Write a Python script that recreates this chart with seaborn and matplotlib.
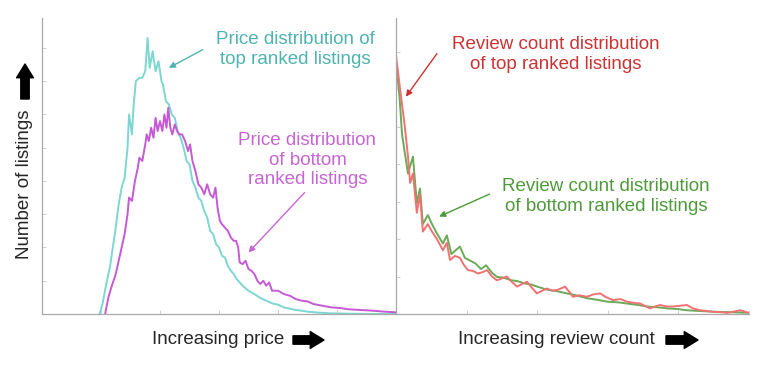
import matplotlib
matplotlib.use("Agg")
import pandas as pd
import seaborn as sns
import matplotlib.pyplot as plt

# ---- data (arbitrary units) ----
price_top_x = [19.5, 20.5, 22, 23, 24, 25, 26, 27, 28, 29, 29.5, 30.5, 31, 31.8, 33, 34, 35,
               35.8, 36.5, 37.5, 38.5, 39.5, 40.5, 41, 42, 43, 44, 45, 46, 47, 48, 49, 50, 51,
               52, 53, 54, 55, 56, 57, 58, 59, 60, 61, 62, 63, 64, 65, 66, 67, 68, 70, 72, 74,
               76, 78, 80, 82, 84, 86, 88, 90, 94, 98, 104, 112, 120]
price_top_y = [0, 0.3, 1.0, 1.4, 2.0, 2.6, 3.3, 3.8, 4.1, 5.0, 6.0, 5.4, 6.2, 7.0, 7.1, 7.1, 7.3,
               8.3, 7.4, 7.9, 7.3, 7.6, 7.0, 6.9, 6.4, 6.3, 6.0, 5.9, 5.5, 5.3, 5.0, 4.6, 4.5, 4.0,
               3.8, 3.5, 3.4, 3.1, 2.9, 2.5, 2.4, 2.1, 2.0, 1.75, 1.7, 1.45, 1.3, 1.2, 1.05, 0.95,
               0.85, 0.7, 0.6, 0.48, 0.4, 0.32, 0.28, 0.2, 0.16, 0.12, 0.1, 0.07, 0.04, 0.02,
               0.01, 0.0, 0.0]

price_bottom_x = [21.4, 22.5, 23.5, 25, 26.5, 28, 29, 29.5, 30.5, 31.5, 32.5, 33, 34, 35, 35.5,
                  36.2, 37, 37.8, 38.5, 39.2, 40, 40.8, 41.5, 42.2, 42.8, 43.5, 44.2, 45, 45.8,
                  46.5, 47.5, 48.5, 49.5, 50.2, 51, 52, 53, 54, 55, 56, 57, 58, 58.8, 59.5, 60.3,
                  61, 62, 63, 64, 65, 65.8, 66.5, 67, 68, 69, 70, 71, 72, 73, 74, 75, 76, 77, 78,
                  80, 82, 84, 86, 88, 90, 92, 95, 98, 101, 104, 108, 112, 116, 120]
price_bottom_y = [0, 0.5, 0.8, 1.2, 1.8, 2.4, 3.0, 3.5, 3.4, 4.0, 4.4, 4.7, 4.6, 5.1, 5.4, 5.2,
                  5.6, 5.3, 5.9, 5.5, 5.8, 5.5, 6.0, 5.6, 6.2, 5.6, 5.4, 5.7, 5.5, 5.4, 5.4, 5.2,
                  4.9, 5.1, 4.6, 4.3, 3.9, 3.8, 3.6, 3.9, 3.6, 3.5, 3.8, 3.2, 2.8, 2.7, 2.6, 2.5,
                  2.3, 2.2, 2.2, 2.0, 1.55, 1.5, 1.6, 1.35, 1.3, 1.2, 1.0, 0.9, 1.0, 0.85, 0.95,
                  0.7, 0.7, 0.6, 0.55, 0.45, 0.4, 0.38, 0.3, 0.25, 0.2, 0.18, 0.14, 0.12, 0.1,
                  0.07, 0.05]

review_top_x = [0, 1.1, 2.5, 3.4, 4, 4.8, 5.9, 6.8, 7.6, 9, 10.2, 11.6, 13.3, 14.4, 15.3, 16.7,
                18.1, 19.3, 20.4, 21.8, 23.2, 24.6, 25.8, 27.2, 28.6, 30, 31.4, 32.9, 34.3, 35.7,
                37.1, 38.5, 39.9, 41.4, 42.8, 44.2, 45.6, 46.7, 47.9, 49, 50.1, 52.1, 54.1, 55.8,
                57.8, 59.5, 61.5, 63.5, 65.4, 67.1, 69.1, 70.5, 71.9, 73.4, 74.8, 76.8, 78.5,
                80.5, 82.4, 84.1, 86.1, 88.1, 89.8, 91.8, 93.8, 95.5, 97.5, 98.9, 100]
review_top_y = [6.9, 6.05, 5.0, 4.2, 3.5, 3.75, 2.7, 3.2, 2.2, 2.4, 2.2, 2.0, 1.7, 1.9, 1.44,
                1.55, 1.5, 1.3, 1.17, 1.15, 1.08, 1.12, 1.17, 1.0, 0.9, 0.95, 1.0, 0.85, 0.73,
                0.8, 0.86, 0.7, 0.55, 0.62, 0.68, 0.62, 0.64, 0.68, 0.73, 0.6, 0.46, 0.5, 0.46,
                0.52, 0.55, 0.45, 0.37, 0.4, 0.33, 0.3, 0.28, 0.22, 0.15, 0.2, 0.24, 0.2, 0.2,
                0.22, 0.24, 0.15, 0.1, 0.08, 0.06, 0.05, 0.03, 0.06, 0.1, 0.06, 0.03]

review_bottom_x = [0, 1, 1.7, 2.5, 3.4, 4.8, 5.9, 6.8, 7.6, 9, 10.2, 11.6, 13.3, 14.4, 15.7,
                   16.9, 18.1, 19.5, 20.7, 22.5, 24.1, 25.5, 27.2, 28.6, 30.5, 32.6, 34.3, 36.3,
                   38.5, 40, 42.8, 45, 48.4, 51, 54.1, 57, 59.8, 63, 65.4, 68.6, 71, 74, 76.8,
                   80, 82.4, 86, 89.8, 94, 97, 100]
review_bottom_y = [6.7, 5.8, 4.8, 4.3, 3.75, 4.2, 2.95, 3.35, 2.4, 2.64, 2.4, 2.15, 1.88, 2.1,
                   1.6, 1.7, 1.8, 1.5, 1.44, 1.35, 1.2, 1.3, 1.1, 0.99, 0.97, 0.9, 0.88, 0.82,
                   0.78, 0.73, 0.65, 0.62, 0.55, 0.5, 0.42, 0.38, 0.33, 0.31, 0.28, 0.24, 0.2,
                   0.18, 0.15, 0.13, 0.1, 0.08, 0.06, 0.05, 0.04, 0.03]

price_ticks = [0, 20, 40, 60, 80, 100, 120]
review_ticks = [0, 20, 40, 60, 80, 100]

# colours
CYAN_LINE, CYAN_TEXT = "#7dd6d0", "#4fb3b0"
MAG_LINE, MAG_TEXT = "#c45ad4", "#c865d4"
RED_LINE, RED_TEXT = "#f07272", "#cc3333"
GRN_LINE, GRN_TEXT = "#6aaa58", "#4e9a3a"

sns.set_style("white")
plt.rcParams["font.family"] = ["Liberation Sans", "DejaVu Sans"]

fig = plt.figure(figsize=(7.68, 3.65), dpi=100)
W, H = 768, 365
ax1 = fig.add_axes([42 / W, 51 / H, 354 / W, 296 / H])
ax2 = fig.add_axes([396 / W, 51 / H, 353 / W, 296 / H])

price_top = pd.DataFrame({"x": price_top_x, "y": price_top_y})
price_bottom = pd.DataFrame({"x": price_bottom_x, "y": price_bottom_y})
review_top = pd.DataFrame({"x": review_top_x, "y": review_top_y})
review_bottom = pd.DataFrame({"x": review_bottom_x, "y": review_bottom_y})

sns.lineplot(data=price_top, x="x", y="y", ax=ax1, color=CYAN_LINE, lw=1.4, sort=False)
sns.lineplot(data=price_bottom, x="x", y="y", ax=ax1, color=MAG_LINE, lw=1.4, sort=False)
sns.lineplot(data=review_bottom, x="x", y="y", ax=ax2, color=GRN_LINE, lw=1.4, sort=False)
sns.lineplot(data=review_top, x="x", y="y", ax=ax2, color=RED_LINE, lw=1.4, sort=False)

ax1.set_xlim(0, 120)
ax1.set_ylim(0, 8.9)
ax2.set_xlim(0, 100)
ax2.set_ylim(0, 7.9)
ax1.set_xticks(price_ticks)
ax1.set_yticks(range(0, 9))
ax2.set_xticks(review_ticks)
ax2.set_yticks(range(0, 8))

for ax in (ax1, ax2):
    ax.set_xticklabels([])
    ax.set_yticklabels([])
    ax.set_xlabel("")
    ax.set_ylabel("")
    ax.patch.set_alpha(0)
    for s in ("top", "right"):
        ax.spines[s].set_visible(False)
    for s in ("left", "bottom"):
        ax.spines[s].set_color("#a8a8a8")
        ax.spines[s].set_linewidth(0.9)
    ax.tick_params(direction="in", length=3, width=0.6, color="#c8c8c8",
                   bottom=True, left=True)

# annotations
small = dict(arrowstyle="-|>", lw=1.0, shrinkA=0, shrinkB=0, mutation_scale=9)
FS = 13.5

ax1.text(85.8, 7.95, "Price distribution of\ntop ranked listings",
         ha="center", va="center", fontsize=FS, color=CYAN_TEXT, linespacing=1.2)
ax1.annotate("", xy=(43, 7.4), xytext=(54.5, 7.95),
             arrowprops=dict(small, color=CYAN_TEXT))

ax1.text(90, 4.62, "Price distribution\nof bottom\nranked listings",
         ha="center", va="center", fontsize=FS, color=MAG_TEXT, linespacing=1.2)
ax1.annotate("", xy=(70, 1.85), xytext=(89, 3.65),
             arrowprops=dict(small, color=MAG_TEXT))

ax2.text(45.3, 6.92, "Review count distribution\nof top ranked listings",
         ha="center", va="center", fontsize=FS, color=RED_TEXT, linespacing=1.2)
ax2.annotate("", xy=(2.8, 5.8), xytext=(11.6, 6.95),
             arrowprops=dict(small, color=RED_TEXT))

ax2.text(59.5, 3.13, "Review count distribution\nof bottom ranked listings",
         ha="center", va="center", fontsize=FS, color=GRN_TEXT, linespacing=1.2)
ax2.annotate("", xy=(12.2, 2.6), xytext=(26.5, 3.2),
             arrowprops=dict(small, color=GRN_TEXT))

# axis labels with thick black arrows
fig.text(218 / W, 1 - 340 / H, "Increasing price", ha="center", va="center", fontsize=FS)
fig.text(556 / W, 1 - 340 / H, "Increasing review count", ha="center", va="center",
         fontsize=FS)
fig.text(25 / W, 1 - 184 / H, "Number of listings", ha="center", va="center",
         rotation=90, fontsize=FS)

big = dict(arrowstyle="simple,head_width=1.1,head_length=0.9,tail_width=0.55",
           color="black", shrinkA=0, shrinkB=0, mutation_scale=11)
fig.add_artist(plt.Annotation("", xy=(324 / W, 1 - 340 / H), xytext=(293 / W, 1 - 340 / H),
                              xycoords="figure fraction", arrowprops=big))
fig.add_artist(plt.Annotation("", xy=(698 / W, 1 - 340 / H), xytext=(666 / W, 1 - 340 / H),
                              xycoords="figure fraction", arrowprops=big))
fig.add_artist(plt.Annotation("", xy=(25 / W, 1 - 64 / H), xytext=(25 / W, 1 - 99 / H),
                              xycoords="figure fraction", arrowprops=big))

fig.savefig("out.png", dpi=100, facecolor="white")
